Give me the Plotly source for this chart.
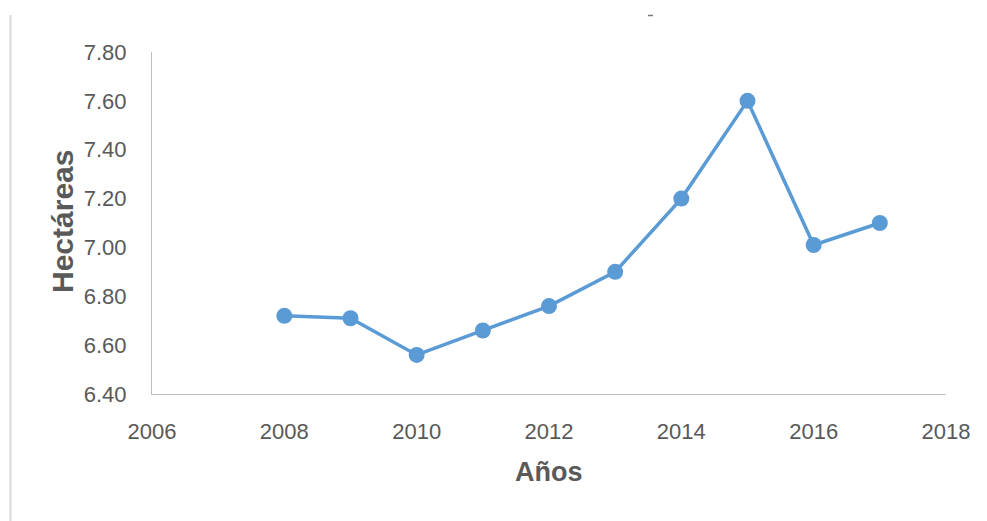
import plotly.graph_objects as go

years = [2008, 2009, 2010, 2011, 2012, 2013, 2014, 2015, 2016, 2017]
hectareas = [6.72, 6.71, 6.56, 6.66, 6.76, 6.90, 7.20, 7.60, 7.01, 7.10]
y_ticks = [6.40, 6.60, 6.80, 7.00, 7.20, 7.40, 7.60, 7.80]
x_ticks = [2006, 2008, 2010, 2012, 2014, 2016, 2018]

# page body has an 8px margin; positions below are in viewport pixels
OFF = 8
W, H = 987 - OFF, 521 - OFF
L, R, T, B = 152 - OFF, 41, 52 - OFF, 127
pw, ph = W - L - R, H - T - B

def px_x(p):
    return (p - OFF - L) / pw

def px_y(p):
    return (H - B - (p - OFF)) / ph

fig = go.Figure()
fig.add_trace(go.Scatter(
    x=years, y=hectareas, mode="lines+markers",
    line=dict(color="#5B9BD5", width=3.5),
    marker=dict(color="#5B9BD5", size=16),
    showlegend=False,
))

tick_font = dict(family="Liberation Sans, Arial, sans-serif", size=22, color="#595959")
title_family = "Liberation Sans, Arial, sans-serif"
fig.update_layout(
    width=W, height=H,
    margin=dict(l=L, r=R, t=T, b=B),
    paper_bgcolor="white", plot_bgcolor="white",
    xaxis=dict(
        range=[2006, 2018], tickvals=x_ticks, ticktext=[str(v) for v in x_ticks],
        showgrid=False, zeroline=False, showline=True, linecolor="#BFBFBF", linewidth=1,
        ticks="", tickfont=tick_font, ticklabelstandoff=18,
    ),
    yaxis=dict(
        range=[6.40, 7.80], tickvals=y_ticks, ticktext=[f"{v:.2f}" for v in y_ticks],
        showgrid=False, zeroline=False, showline=True, linecolor="#BFBFBF", linewidth=1,
        ticks="", tickfont=tick_font, ticklabelstandoff=20,
    ),
    annotations=[
        dict(text="<b>Años</b>", xref="paper", yref="paper",
             x=px_x(549), y=px_y(472), xanchor="center", yanchor="middle", showarrow=False,
             font=dict(family=title_family, size=27, color="#595959")),
        dict(text="<b>Hectáreas</b>", xref="paper", yref="paper",
             x=px_x(62), y=px_y(222), xanchor="center", yanchor="middle",
             showarrow=False, textangle=-90,
             font=dict(family=title_family, size=30, color="#595959")),
    ],
    shapes=[
        dict(type="line", xref="paper", yref="paper",
             x0=px_x(10.5), x1=px_x(10.5), y0=px_y(15), y1=px_y(521),
             line=dict(color="#D9D9D9", width=2)),
        dict(type="line", xref="paper", yref="paper",
             x0=px_x(648), x1=px_x(653), y0=px_y(15.5), y1=px_y(15.5),
             line=dict(color="#777777", width=1.5)),
    ],
)

fig.write_html("out.html")
